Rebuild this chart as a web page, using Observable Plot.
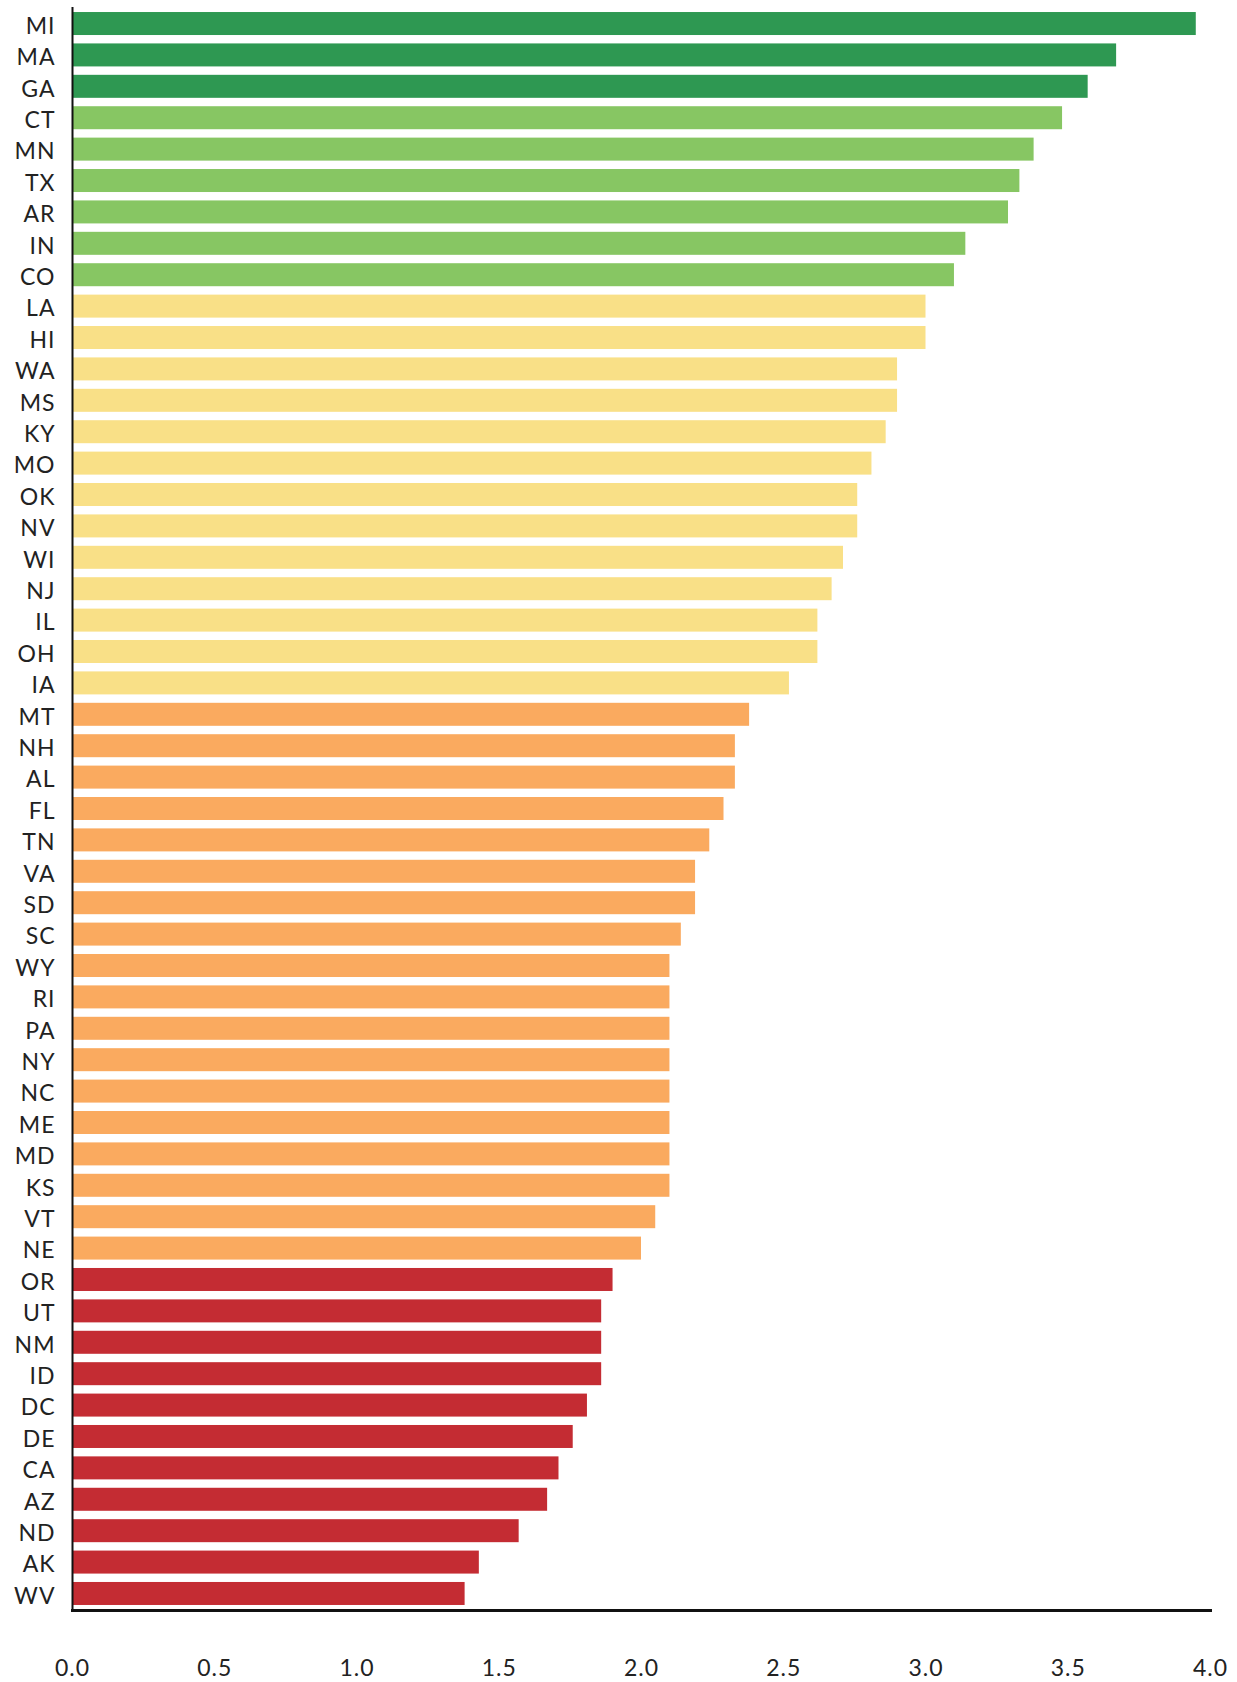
<!DOCTYPE html>
<html>
<head>
<meta charset="utf-8">
<script src="https://cdn.jsdelivr.net/npm/d3@7"></script>
<script src="https://cdn.jsdelivr.net/npm/@observablehq/plot@0.6"></script>
<style>
  html, body { margin: 0; padding: 0; background: #fff; }
  #chart svg { display: block; }
  #chart svg text { letter-spacing: 1px; }
</style>
</head>
<body>
<div id="chart"></div>
<script>
const states = ["MI","MA","GA","CT","MN","TX","AR","IN","CO","LA","HI","WA","MS","KY","MO","OK","NV","WI","NJ","IL","OH","IA","MT","NH","AL","FL","TN","VA","SD","SC","WY","RI","PA","NY","NC","ME","MD","KS","VT","NE","OR","UT","NM","ID","DC","DE","CA","AZ","ND","AK","WV"];
const values = [3.95,3.67,3.57,3.48,3.38,3.33,3.29,3.14,3.10,3.00,3.00,2.90,2.90,2.86,2.81,2.76,2.76,2.71,2.67,2.62,2.62,2.52,2.38,2.33,2.33,2.29,2.24,2.19,2.19,2.14,2.10,2.10,2.10,2.10,2.10,2.10,2.10,2.10,2.05,2.00,1.90,1.86,1.86,1.86,1.81,1.76,1.71,1.67,1.57,1.43,1.38];
const groups = ["top","top","top","high","high","high","high","high","high","mid","mid","mid","mid","mid","mid","mid","mid","mid","mid","mid","mid","mid","low","low","low","low","low","low","low","low","low","low","low","low","low","low","low","low","low","low","bottom","bottom","bottom","bottom","bottom","bottom","bottom","bottom","bottom","bottom","bottom"];
const groupNames = ["top","high","mid","low","bottom"];
const groupColors = ["#2E9852","#87C663","#F9E087","#FAAA5F","#C42C33"];
const xTicks = [0,0.5,1,1.5,2,2.5,3,3.5,4];

const data = states.map((s, i) => ({state: s, value: values[i], group: groups[i]}));

const chart = Plot.plot({
  width: 1237,
  height: 1682,
  marginTop: 7,
  marginBottom: 72,
  marginLeft: 72,
  marginRight: 27,
  style: {fontFamily: "Lato, sans-serif", fontSize: "23px", color: "#222", background: "#fff"},
  x: {domain: [0, 4], ticks: xTicks},
  y: {domain: states, paddingInner: 0.2675, paddingOuter: 0.16, round: false},
  color: {domain: groupNames, range: groupColors},
  marks: [
    Plot.barX(data, {x: "value", y: "state", fill: "group"}),
    Plot.ruleX([0], {stroke: "#111", strokeWidth: 2}),
    Plot.frame({anchor: "bottom", stroke: "#111", strokeWidth: 3}),
    Plot.axisY({tickSize: 0, tickPadding: 17, dy: 2.5, label: null, fontSize: 23, fill: "#222"}),
    Plot.axisX({ticks: xTicks, tickSize: 0, tickPadding: 49, label: null, fontSize: 23, fill: "#222", tickFormat: d => d.toFixed(1)})
  ]
});
document.getElementById("chart").appendChild(chart);
</script>
</body>
</html>
